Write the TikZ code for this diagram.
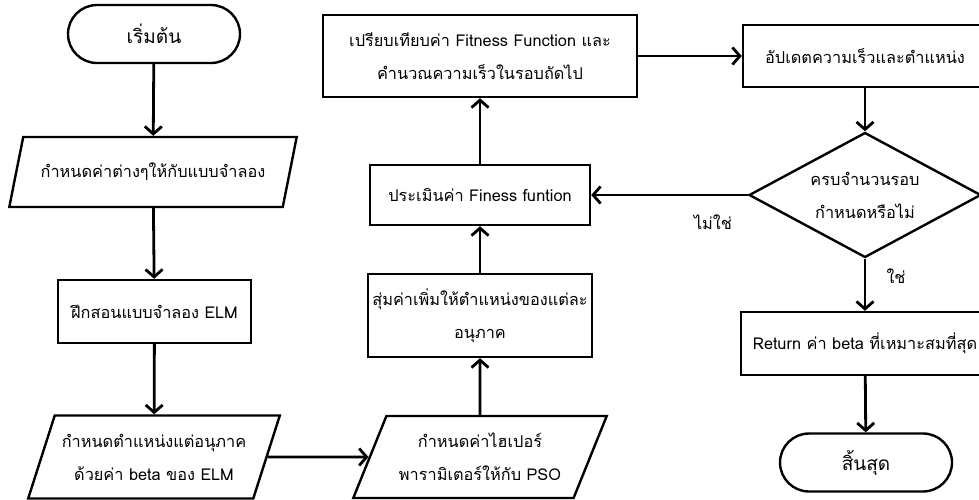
\documentclass[tikz,border=0pt]{standalone}
\usepackage{fontspec}
\setmainfont[Script=Thai]{Loma}
\usetikzlibrary{shapes.geometric,arrows.meta}

\tikzset{
	txt/.style={font=\fontsize{16.3}{33}\selectfont},
	box/.style={txt,draw,line width=2.4pt,rectangle,align=center,inner sep=0pt},
	term/.style={draw,line width=2.4pt,rectangle,rounded corners=29pt,minimum width=172pt,minimum height=58pt,font=\fontsize{19}{24}\selectfont},
	inout/.style={txt,draw,line width=2.4pt,trapezium,trapezium stretches=true,align=center,inner sep=0pt},
	cond/.style={txt,draw,line width=2.4pt,diamond,aspect=1.85,minimum width=232pt,minimum height=125pt,align=center,inner sep=0pt},
	link/.style={line width=2.8pt,-{Straight Barb[length=7.5pt,width=17pt]}}
}

\begin{document}
\begin{tikzpicture}[x=1pt,y=-1pt]
			\clip (0,0) rectangle (979,499);
			\fill[white] (0,0) rectangle (979,499);

			\begin{scope}[overlay]
			\node[term] (start) at (154,34) {เริ่มต้น};
			\node[inout,trapezium left angle=55.6,trapezium right angle=124.4,minimum width=288pt,minimum height=70pt] (init) at (153,172) {กำหนดค่าต่างๆให้กับแบบจำลอง};
			\node[box,minimum width=193pt,minimum height=63pt] (train) at (154.5,311.5) {ฝึกสอนแบบจำลอง ELM};
			\node[inout,trapezium left angle=62,trapezium right angle=118,minimum width=252pt,minimum height=83pt] (pos) at (154,457) {กำหนดตำแหน่งแต่อนุภาค\\ด้วยค่า beta ของ ELM};
			\node[inout,trapezium left angle=59,trapezium right angle=121,minimum width=254pt,minimum height=82pt] (hyper) at (480,457) {กำหนดค่าไฮเปอร์\\พารามิเตอร์ให้กับ PSO};
			\node[box,minimum width=224pt,minimum height=83pt] (rand) at (480,315.5) {สุ่มค่าเพิ่มให้ตำแหน่งของแต่ละ\\อนุภาค};
			\node[box,minimum width=220pt,minimum height=60pt] (eval) at (480,195) {ประเมินค่า Finess funtion};
			\node[box,minimum width=314pt,minimum height=82pt] (comp) at (480,56) {เปรียบเทียบค่า Fitness Function และ\\คำนวณความเร็วในรอบถัดไป};
			\node[box,minimum width=244pt,minimum height=62pt] (upd) at (865,56) {อัปเดตความเร็วและตำแหน่ง};
			\node[cond] (check) at (865,195) {ครบจำนวนรอบ\\กำหนดหรือไม่};
			\node[box,minimum width=248pt,minimum height=63pt] (ret) at (865,343.5) {Return ค่า beta ที่เหมาะสมที่สุด};
			\node[term] (stop) at (866,462.5) {สิ้นสุด};

			\node[txt] (no) at (713,222) {ไม่ใช่};
			\node[txt] (yes) at (896,276) {ใช่};

			\draw[link] (start) -- (init);
			\draw[link] (init) -- (train);
			\draw[link] (train) -- (pos);
			\draw[link] (pos.east) -- (hyper.west);
			\draw[link] (hyper) -- (rand);
			\draw[link] (rand) -- (eval);
			\draw[link] (eval) -- (comp);
			\draw[link] (comp) -- (upd);
			\draw[link] (upd) -- (check);
			\draw[link] (check.west) -- (eval.east);
			\draw[link] (check) -- (ret);
			\draw[link] (ret) -- (stop);
			\end{scope}
\end{tikzpicture}
\end{document}
